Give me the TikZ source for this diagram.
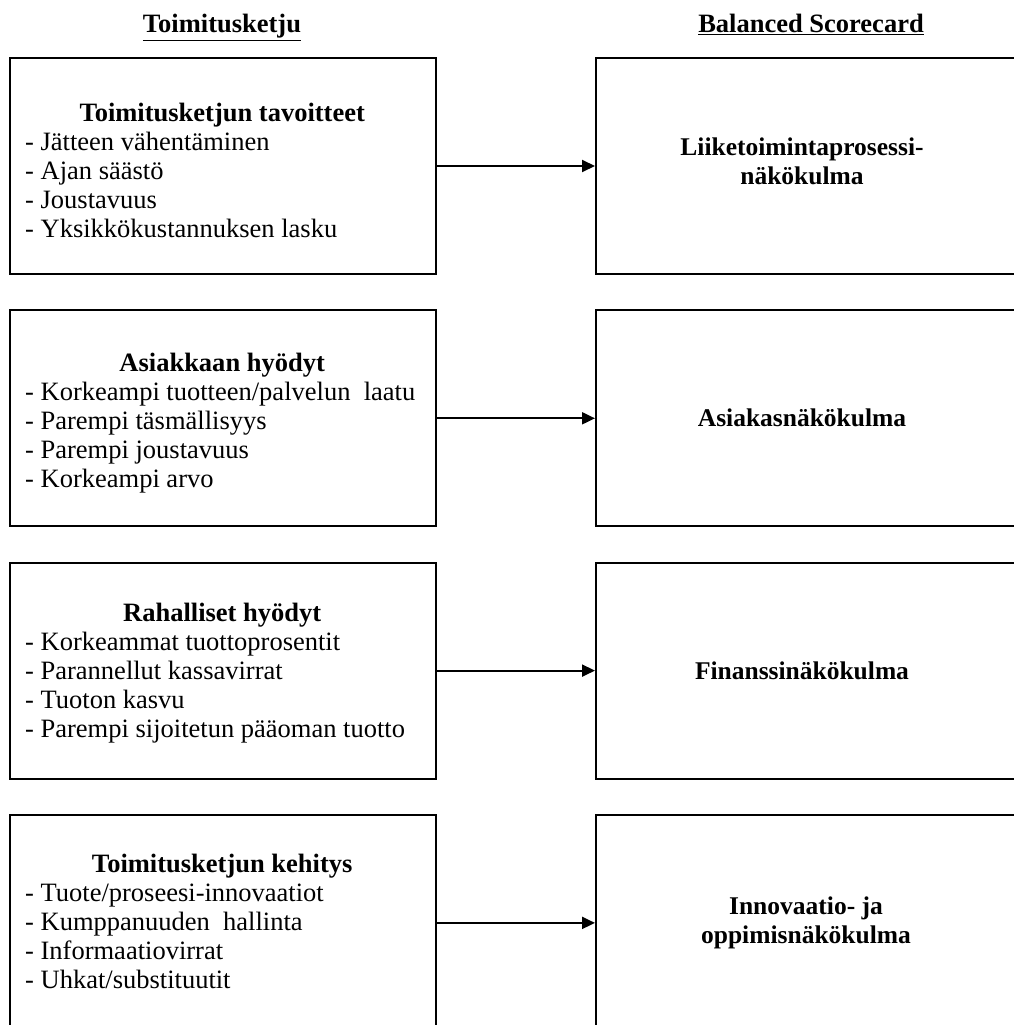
\documentclass[tikz,border=0pt]{standalone}
\usepackage{fontspec}
\setmainfont{Liberation Serif}
\usetikzlibrary{arrows.meta}
\begin{document}
\begin{tikzpicture}[x=1pt,y=-1pt,
  frame/.style={draw=black, line width=2pt, minimum width=426pt,
    minimum height=216pt, anchor=north west, inner sep=0pt},
  txt/.style={font=\fontsize{26.5}{29}\selectfont, inner sep=0pt},
  list/.style={txt, align=left, anchor=west},
  persp/.style={inner sep=0pt, font=\fontsize{25.5}{29}\selectfont\bfseries, align=center},
  head/.style={inner sep=0pt, font=\fontsize{26.5}{29}\selectfont\bfseries, anchor=base},
  link/.style={line width=2pt, -{Triangle[length=13pt,width=12pt]}}]
\useasboundingbox (0,0) rectangle (1014,1025);
\clip (0,0) rectangle (1014,1025);

% column headings
\node[head] (hleft)  at (222,33) {\underline{Toimitusketju}};
\node[head] (hright) at (811,33) {\underline{Balanced Scorecard}};

% supply-chain boxes (left)
\node[frame] (L1) at (9,57)    {};
\node[frame] (L2) at (9,309.3) {};
\node[frame] (L3) at (9,561.6) {};
\node[frame] (L4) at (9,813.9) {};

% scorecard boxes (right, running past the page edge)
\node[frame, minimum width=428pt] (R1) at (595,57)    {};
\node[frame, minimum width=428pt] (R2) at (595,309.3) {};
\node[frame, minimum width=428pt] (R3) at (595,561.6) {};
\node[frame, minimum width=428pt] (R4) at (595,813.9) {};

% left box contents
\node[list] (L1t) at ([xshift=16pt,yshift=-4pt]L1.west) {%
  \makebox[394pt][c]{\bfseries Toimitusketjun tavoitteet}\\
  - Jätteen vähentäminen\\
  - Ajan säästö\\
  - Joustavuus\\
  - Yksikkökustannuksen lasku};
\node[list] (L2t) at ([xshift=16pt,yshift=-5pt]L2.west) {%
  \makebox[394pt][c]{\bfseries Asiakkaan hyödyt}\\
  - Korkeampi tuotteen/palvelun\ \ laatu\\
  - Parempi täsmällisyys\\
  - Parempi joustavuus\\
  - Korkeampi arvo};
\node[list] (L3t) at ([xshift=16pt,yshift=-3pt]L3.west) {%
  \makebox[394pt][c]{\bfseries Rahalliset hyödyt}\\
  - Korkeammat tuottoprosentit\\
  - Parannellut kassavirrat\\
  - Tuoton kasvu\\
  - Parempi sijoitetun pääoman tuotto};
\node[list] (L4t) at ([xshift=16pt,yshift=1pt]L4.west) {%
  \makebox[394pt][c]{\bfseries Toimitusketjun kehitys}\\
  - Tuote/proseesi-innovaatiot\\
  - Kumppanuuden\ \ hallinta\\
  - Informaatiovirrat\\
  - Uhkat/substituutit};

% right box contents
\node[persp] (R1t) at ([xshift=-8pt,yshift=4.5pt]R1.center) {Liiketoimintaprosessi-\\näkökulma};
\node[persp] (R2t) at ([xshift=-8pt]R2.center) {Asiakasnäkökulma};
\node[persp] (R3t) at ([xshift=-8pt]R3.center) {Finanssinäkökulma};
\node[persp] (R4t) at ([xshift=-4pt]R4.center) {Innovaatio- ja\\oppimisnäkökulma};

% connectors
\draw[link] (L1.east) -- (R1.west);
\draw[link] (L2.east) -- (R2.west);
\draw[link] (L3.east) -- (R3.west);
\draw[link] (L4.east) -- (R4.west);
\end{tikzpicture}
\end{document}
